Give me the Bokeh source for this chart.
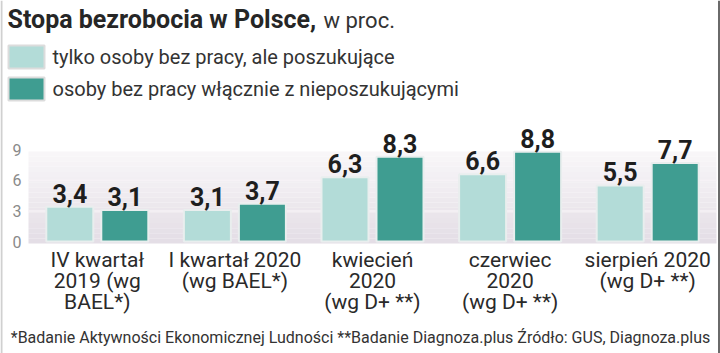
from bokeh.plotting import figure
from bokeh.models import ColumnDataSource, Range1d
from bokeh.core.properties import value
from bokeh.embed import file_html
from bokeh.resources import INLINE

# ---- data ----
categories = ["IV kwartał\n2019 (wg\nBAEL*)", "I kwartał 2020\n(wg BAEL*)",
              "kwiecień\n2020\n(wg D+ **)", "czerwiec\n2020\n(wg D+ **)",
              "sierpień 2020\n(wg D+ **)"]
seeking = [3.4, 3.1, 6.3, 6.6, 5.5]
all_unemployed = [3.1, 3.7, 8.3, 8.8, 7.7]
series_names = ["tylko osoby bez pracy, ale poszukujące",
                "osoby bez pracy włącznie z nieposzukującymi"]
y_ticks = [0, 3, 6, 9]
title_bold = "Stopa bezrobocia w Polsce,"
title_rest = "w proc."
footer = "*Badanie Aktywności Ekonomicznej Ludności **Badanie Diagnoza.plus Źródło: GUS, Diagnoza.plus"

# ---- layout geometry (pixels) ----
W, H = 720, 353
PL, PR = 28, 716          # plot panel left/right
ZERO_PX, PPU = 241, 10.2  # y=0 pixel row, pixels per unit
n = len(categories)
XPU = (PR - PL) / n

def xd(px):
    return (px - PL) / XPU - 0.5

def yd(py):
    return (ZERO_PX - py) / PPU

LIGHT = "#b3dcd8"
DARK = "#3f9d91"
FONT = value("Roboto")

p = figure(width=W, height=H, output_backend="svg", toolbar_location=None,
           x_range=Range1d(xd(0), xd(W)), y_range=Range1d(yd(H), yd(0)),
           min_border=0)
p.axis.visible = False
p.grid.visible = False
p.outline_line_color = None
p.background_fill_color = "white"
p.border_fill_color = "white"

# side rules
p.segment(x0=[xd(1)], y0=[yd(0)], x1=[xd(1)], y1=[yd(H)], line_color="#d0d0d0", line_width=2)
p.segment(x0=[xd(718.5)], y0=[yd(0)], x1=[xd(718.5)], y1=[yd(H)], line_color="#6a6a6a", line_width=2)

# background panel with vertical gradient (decorative bands)
top_c = (0xf8, 0xf6, 0xf8)
bot_c = (0xe4, 0xde, 0xe6)
nb = 18
y_top, y_bot = yd(151), yd(243)
for k in range(nb):
    t = k / (nb - 1)
    c = tuple(int(round(top_c[j] + (bot_c[j] - top_c[j]) * t)) for j in range(3))
    ya = y_top + (y_bot - y_top) * k / nb
    yb = y_top + (y_bot - y_top) * (k + 1) / nb
    p.quad(left=xd(PL), right=xd(PR), top=ya, bottom=yb,
           fill_color="#%02x%02x%02x" % c, line_color=None)

# gridlines inside panel
grid_vals = [t for t in y_ticks if 0 < t < 9]
p.segment(x0=[xd(PL)] * len(grid_vals), y0=grid_vals,
          x1=[xd(PR)] * len(grid_vals), y1=grid_vals,
          line_color="#f6f2f6", line_width=1.5)

# bars
bw = 47 / XPU
off = 27.5 / XPU
xs = list(range(n))
src = ColumnDataSource(dict(
    x1=[x - off for x in xs], x2=[x + off for x in xs],
    v1=seeking, v2=all_unemployed,
    t1=[f"{v:.1f}".replace(".", ",") for v in seeking],
    t2=[f"{v:.1f}".replace(".", ",") for v in all_unemployed]))
p.vbar(x="x1", top="v1", bottom=0, width=bw, source=src,
       fill_color=LIGHT, line_color="#e9eeee", line_width=2)
p.vbar(x="x2", top="v2", bottom=0, width=bw, source=src,
       fill_color=DARK, line_color="#e9eeee", line_width=2)

# value labels
for xc, vc, tc in (("x1", "v1", "t1"), ("x2", "v2", "t2")):
    p.text(x=xc, y=vc, text=tc, source=src, y_offset=-4,
           text_align="center", text_baseline="bottom",
           text_font=FONT, text_font_style="bold",
           text_font_size="25px", text_color="#1e1e1e")

# y tick labels
p.text(x=[xd(21)] * len(y_ticks), y=y_ticks, text=[str(t) for t in y_ticks],
       text_align="right", text_baseline="middle", text_font=FONT,
       text_font_size="16px", text_color="#8a8a8a")

# category labels
cx, cy, ct = [], [], []
for i, c in enumerate(categories):
    for j, line in enumerate(c.split("\n")):
        cx.append(i)
        cy.append(yd(259 + 21 * j))
        ct.append(line)
p.text(x=cx, y=cy, text=ct, text_align="center", text_baseline="middle",
       text_font=FONT, text_font_size="21px", text_color="#2a2a2a")

# title
p.text(x=[xd(7)], y=[yd(19)], text=[title_bold], text_font=FONT,
       text_font_style="bold", text_font_size="25px",
       text_color="#262626", text_baseline="middle")
p.text(x=[xd(323)], y=[yd(20)], text=[title_rest], text_font=FONT,
       text_font_size="22px", text_color="#333333", text_baseline="middle")

# legend
for i, (name, col) in enumerate(zip(series_names, [LIGHT, DARK])):
    cyp = 56.5 + 32 * i
    p.quad(left=xd(8), right=xd(44), top=yd(cyp - 11.5), bottom=yd(cyp + 11.5),
           fill_color=col, line_color="#dcdcdc", line_width=2)
    p.text(x=[xd(52)], y=[yd(cyp)], text=[name], text_font=FONT,
           text_font_size="20px", text_color="#333333", text_baseline="middle")

# footer
p.text(x=[xd(360)], y=[yd(337)], text=[footer], text_font=FONT,
       text_font_size="16px", text_color="#333333",
       text_align="center", text_baseline="middle")

open("out.html", "w").write(file_html(p, INLINE))
